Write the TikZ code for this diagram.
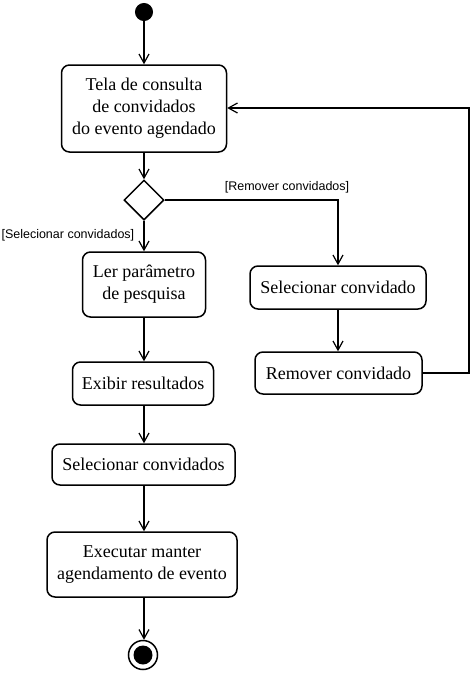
\documentclass[tikz,border=0pt]{standalone}
\usepackage{fontspec}
\setmainfont{Liberation Serif}
\newfontfamily\labelfont{Liberation Sans}
\usetikzlibrary{shapes.geometric,arrows.meta}
\begin{document}
\begin{tikzpicture}[x=1pt,y=-1pt,
  line width=1.5pt,
  act/.style={draw, rounded corners=8pt, align=center, inner sep=0pt,
    font=\fontsize{18}{22}\selectfont},
  guard/.style={font=\labelfont\fontsize{12.5}{14}\selectfont, inner sep=1pt},
  flow/.style={-{Straight Barb[length=9pt,width=10pt,line width=1.2pt]}}
]
\useasboundingbox[fill=white] (0,0) rectangle (472,673);
\node[circle, fill=black, draw, line width=1pt, minimum size=17pt, inner sep=0pt] (start) at (144,12) {};
\node[act, minimum width=165pt, minimum height=87pt] (tela) at (144,108.5) {Tela de consulta\\de convidados\\do evento agendado};
\node[diamond, draw, minimum width=40pt, minimum height=40pt, inner sep=0pt] (dec) at (144,200) {};
\node[act, minimum width=123pt, minimum height=65pt] (ler) at (144,284.5) {Ler parâmetro\\de pesquisa};
\node[act, minimum width=141pt, minimum height=43pt] (exib) at (143,383.5) {Exibir resultados};
\node[act, minimum width=183pt, minimum height=41pt] (selc) at (143.5,464.5) {Selecionar convidados};
\node[act, minimum width=190pt, minimum height=65pt] (exec) at (142,564.5) {Executar manter\\agendamento de evento};
\node[circle, draw, line width=1.5pt, minimum size=29pt, inner sep=0pt] (end) at (143,655) {};
\node[circle, fill=black, minimum size=19pt, inner sep=0pt] (endin) at (end.center) {};
\node[act, minimum width=176pt, minimum height=43pt] (seld) at (338,287.5) {Selecionar convidado};
\node[act, minimum width=167pt, minimum height=42pt] (rem) at (338.5,373) {Remover convidado};
\coordinate (lp) at (469,108);

\draw[flow] (start) -- (start.south |- tela.north);
\draw[flow] (tela.south -| dec.north) -- (dec.north);
\draw[flow] (dec.south) -- (dec.south |- ler.north);
\draw[flow] (ler.south -| dec.south) -- (dec.south |- exib.north);
\draw[flow] (exib.south -| dec.south) -- (dec.south |- selc.north);
\draw[flow] (selc.south -| dec.south) -- (dec.south |- exec.north);
\draw[flow] (exec.south -| dec.south) -- (dec.south |- end.north);
\draw[flow] (dec.east) -| (seld.north);
\draw[flow] (seld.south) -- (seld.south |- rem.north);
\draw[flow] (rem.east) -| (lp) -- (lp -| tela.east);

\node[guard, anchor=south] (g1) at (287,195) {[Remover convidados]};
\node[guard, anchor=east] (g2) at (136,235) {[Selecionar convidados]};
\end{tikzpicture}
\end{document}
